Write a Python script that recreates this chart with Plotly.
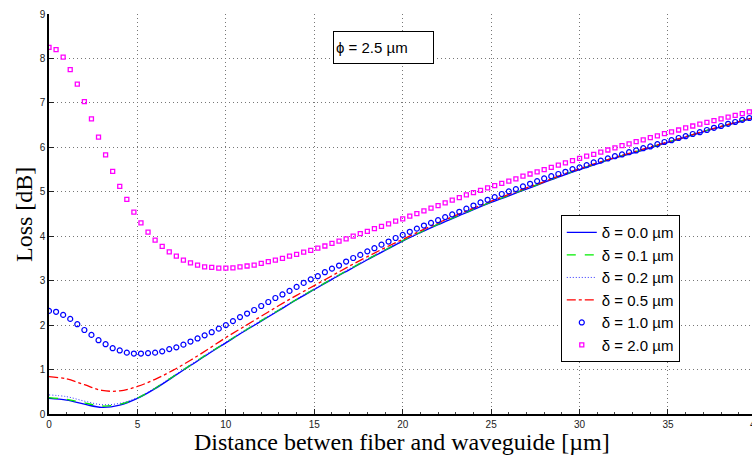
import plotly.graph_objects as go

# ---- data ----
x_line = list(range(0, 41))
loss_d00 = [0.35,0.31,0.22,0.15,0.20,0.35,0.57,0.83,1.09,1.35,1.60,1.85,2.09,2.33,2.57,2.80,3.03,3.25,3.47,3.68,3.89,
            4.08,4.26,4.43,4.60,4.76,4.91,5.06,5.21,5.36,5.50,5.63,5.76,5.87,5.99,6.11,6.23,6.35,6.46,6.57,6.68]
loss_d01 = [0.37,0.33,0.25,0.18,0.22,0.36,0.58,0.84,1.10,1.36,1.61,1.86,2.10,2.34,2.58,2.81,3.04,3.26,3.48,3.69,3.90,
            4.09,4.27,4.44,4.61,4.77,4.92,5.07,5.22,5.37,5.51,5.64,5.77,5.88,6.00,6.12,6.24,6.36,6.47,6.58,6.69]
loss_d02 = [0.43,0.39,0.29,0.21,0.24,0.37,0.59,0.85,1.11,1.37,1.62,1.87,2.11,2.35,2.59,2.82,3.05,3.27,3.49,3.70,3.91,
            4.10,4.28,4.45,4.62,4.78,4.93,5.08,5.23,5.37,5.51,5.64,5.77,5.88,6.00,6.12,6.24,6.36,6.47,6.58,6.69]
loss_d05 = [0.84,0.79,0.66,0.53,0.52,0.62,0.78,0.98,1.21,1.46,1.72,1.96,2.20,2.44,2.67,2.89,3.11,3.33,3.54,3.74,3.93,
            4.12,4.30,4.47,4.63,4.79,4.94,5.09,5.23,5.38,5.52,5.65,5.77,5.89,6.01,6.12,6.24,6.36,6.47,6.58,6.69]

x_marker = [round(0.4 * i, 1) for i in range(101)]
loss_d10 = [2.32,2.30,2.23,2.14,2.02,1.89,1.78,1.66,1.57,1.48,1.43,1.38,1.36,1.36,1.37,1.38,1.41,1.46,1.50,1.56,
            1.63,1.70,1.77,1.84,1.92,2.00,2.09,2.18,2.26,2.34,2.43,2.52,2.61,2.69,2.77,2.86,2.95,3.03,3.10,3.19,
            3.27,3.34,3.43,3.51,3.58,3.66,3.73,3.81,3.88,3.96,4.03,4.10,4.17,4.24,4.30,4.36,4.43,4.49,4.55,4.62,
            4.69,4.76,4.82,4.88,4.95,5.01,5.06,5.12,5.18,5.24,5.30,5.35,5.40,5.45,5.51,5.55,5.60,5.66,5.70,5.75,
            5.80,5.84,5.89,5.93,5.98,6.02,6.07,6.12,6.16,6.21,6.25,6.30,6.34,6.39,6.44,6.48,6.53,6.57,6.62,6.66,6.71]
loss_d20 = [8.25,8.20,8.03,7.75,7.42,7.03,6.64,6.23,5.83,5.46,5.12,4.83,4.54,4.30,4.09,3.91,3.77,3.65,3.55,3.46,
            3.40,3.35,3.31,3.30,3.28,3.28,3.29,3.31,3.33,3.35,3.39,3.43,3.46,3.50,3.55,3.59,3.64,3.68,3.73,3.78,
            3.84,3.89,3.94,4.00,4.06,4.11,4.17,4.22,4.28,4.34,4.39,4.45,4.51,4.57,4.63,4.69,4.75,4.81,4.87,4.93,
            4.98,5.03,5.09,5.14,5.19,5.24,5.29,5.35,5.40,5.45,5.50,5.55,5.60,5.65,5.70,5.75,5.80,5.84,5.89,5.94,
            5.99,6.04,6.08,6.13,6.17,6.22,6.26,6.31,6.35,6.39,6.44,6.48,6.52,6.56,6.60,6.64,6.68,6.72,6.76,6.80,6.84]

names = ["δ = 0.0 µm", "δ = 0.1 µm", "δ = 0.2 µm", "δ = 0.5 µm", "δ = 1.0 µm", "δ = 2.0 µm"]
x_ticks = [0, 5, 10, 15, 20, 25, 30, 35]
y_ticks = [0, 1, 2, 3, 4, 5, 6, 7, 8, 9]

SANS = "Liberation Sans, Arial, sans-serif"
SERIF = "Liberation Serif, Times New Roman, serif"

fig = go.Figure()
fig.add_trace(go.Scatter(x=x_line, y=loss_d00, name=names[0], mode="lines",
                         line=dict(color="#0000ff", width=1.3, shape="spline")))
fig.add_trace(go.Scatter(x=x_line, y=loss_d01, name=names[1], mode="lines",
                         line=dict(color="#00ee00", width=1.3, dash="dash", shape="spline")))
fig.add_trace(go.Scatter(x=x_line, y=loss_d02, name=names[2], mode="lines",
                         line=dict(color="#3030ff", width=1.0, dash="1px,2px", shape="spline")))
fig.add_trace(go.Scatter(x=x_line, y=loss_d05, name=names[3], mode="lines",
                         line=dict(color="#ff0000", width=1.3, dash="dashdot", shape="spline")))
fig.add_trace(go.Scatter(x=x_marker, y=loss_d10, name=names[4], mode="markers",
                         marker=dict(symbol="circle-open", size=5, color="#0000ff", line=dict(width=1.2))))
fig.add_trace(go.Scatter(x=x_marker, y=loss_d20, name=names[5], mode="markers",
                         marker=dict(symbol="square-open", size=4, color="#ff00ff", line=dict(width=1.3))))

fig.update_layout(
    width=752, height=456,
    margin=dict(l=49, r=0, t=14, b=42),
    paper_bgcolor="white", plot_bgcolor="white",
    font=dict(family=SANS, size=10, color="#222"),
    showlegend=True,
    legend=dict(x=0.728, y=0.497, xanchor="left", yanchor="top",
                bgcolor="white", bordercolor="black", borderwidth=1,
                font=dict(family=SANS, size=15, color="black"),
                itemwidth=30, tracegroupgap=0),
    xaxis=dict(range=[0, 39.75], tickmode="array", tickvals=x_ticks,
               ticks="inside", ticklen=5, tickcolor="#222",
               showline=True, linecolor="black", linewidth=1.5,
               showgrid=True, gridcolor="#777777", griddash="1px,3px", gridwidth=1,
               zeroline=False, tickfont=dict(size=10, color="#222"),
               minor=dict(ticks="inside", ticklen=2, dtick=1, tickcolor="#444", showgrid=False)),
    yaxis=dict(range=[0, 9], tickmode="array", tickvals=y_ticks,
               ticks="inside", ticklen=5, tickcolor="#222",
               showline=True, linecolor="black", linewidth=1.5,
               showgrid=True, gridcolor="#777777", griddash="1px,3px", gridwidth=1,
               zeroline=False, tickfont=dict(size=10, color="#222")),
    annotations=[
        dict(text="Distance betwen fiber and waveguide [µm]", xref="paper", yref="paper",
             x=0.502, y=-0.071, xanchor="center", yanchor="middle", showarrow=False,
             font=dict(family=SERIF, size=24, color="black")),
        dict(text="Loss [dB]", xref="paper", yref="paper", textangle=-90,
             x=-0.0356, y=0.5, xanchor="center", yanchor="middle", showarrow=False,
             font=dict(family=SERIF, size=24, color="black")),
        dict(text="ϕ = 2.5 µm", xref="paper", yref="paper", x=0.4758, y=0.916,
             xanchor="center", yanchor="middle", showarrow=False, align="left",
             width=95, height=27, borderpad=2, bgcolor="white", bordercolor="black", borderwidth=1,
             font=dict(family=SANS, size=15, color="black")),
        dict(text="40", xref="paper", yref="paper", x=1.0063, y=0, yanchor="top", yshift=-3,
             xanchor="center", showarrow=False, font=dict(family=SANS, size=10, color="#222")),
    ],
)

fig.write_html("out.html")
